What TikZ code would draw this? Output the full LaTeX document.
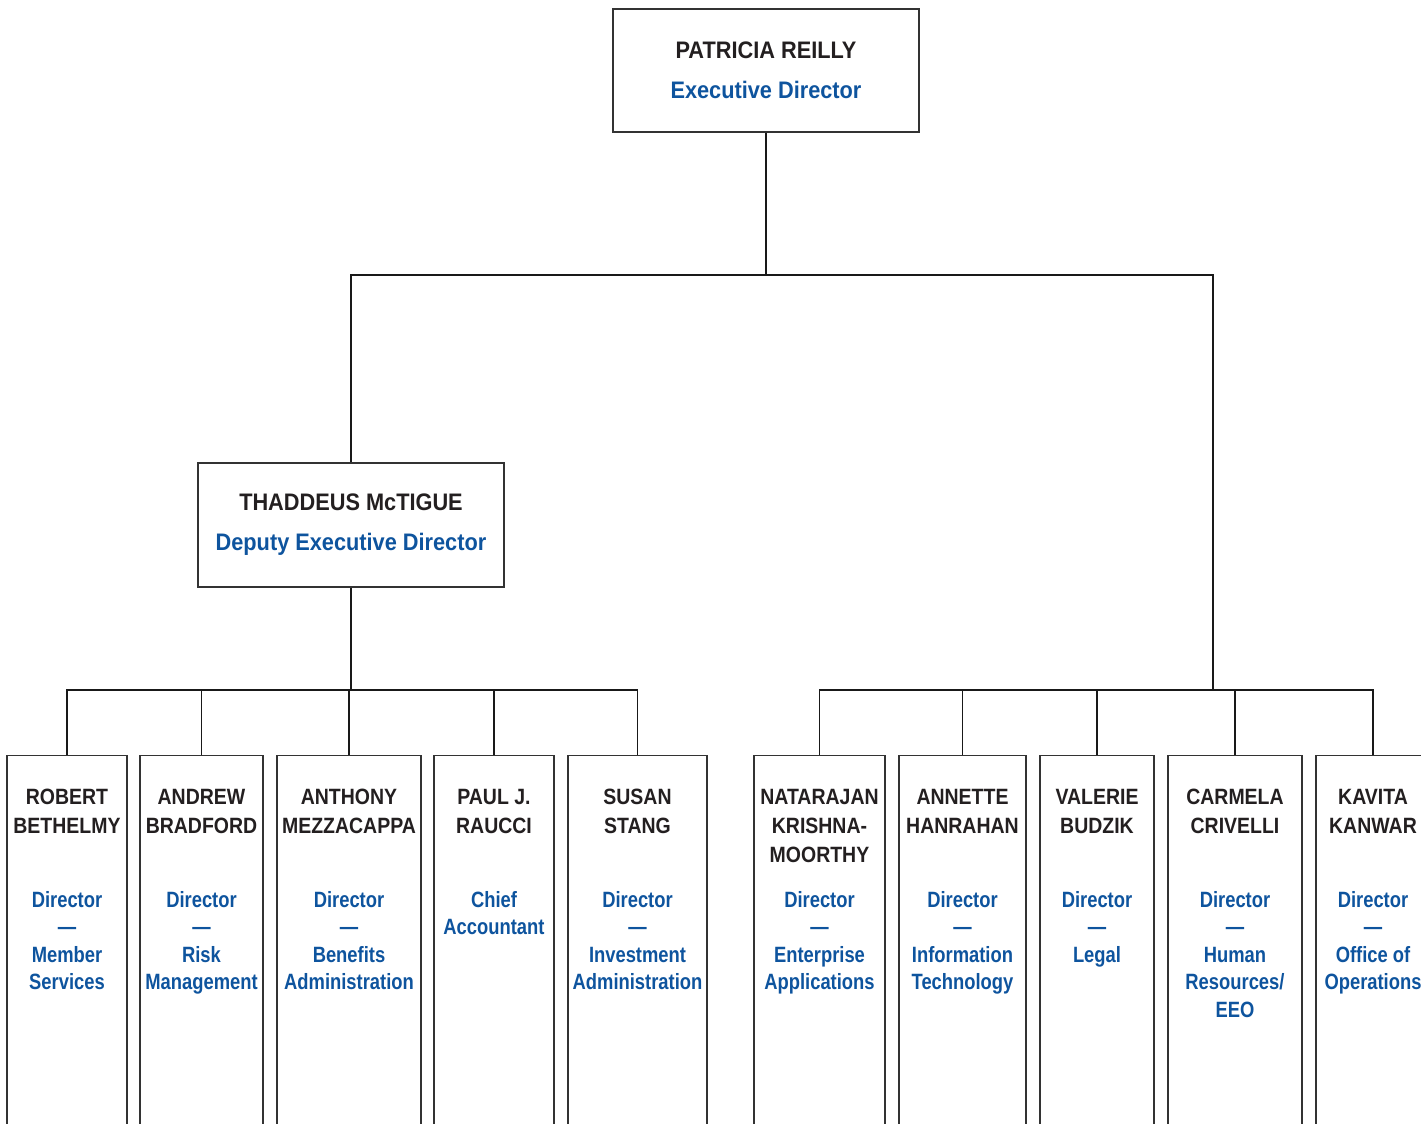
\documentclass[tikz,border=0pt]{standalone}
\usepackage{fontspec}
\newfontfamily\hdfont[FakeStretch=0.91]{Liberation Sans}
\newfontfamily\namefont[FakeStretch=0.88]{Liberation Sans}
\newfontfamily\jobfont[FakeStretch=0.83]{Liberation Sans}
\definecolor{inkname}{RGB}{35,31,32}
\definecolor{inkjob}{RGB}{14,84,158}

\begin{document}
\begin{tikzpicture}[x=0.02cm,y=-0.02cm,
    head/.style={draw=black!80, line width=0.7pt, minimum width=6.12cm, align=center,
      font={\hdfont\bfseries\fontsize{13.6}{22.7}\selectfont}},
    unit/.style={draw=black!80, line width=0.7pt, anchor=north, minimum height=7.7cm},
    who/.style={anchor=north, inner sep=0pt, align=center, text=inkname,
      font={\namefont\bfseries\fontsize{12.6}{16.4}\selectfont}},
    job/.style={anchor=north, inner sep=0pt, align=center, text=inkjob,
      font={\jobfont\bfseries\fontsize{12.6}{15.6}\selectfont}},
    link/.style={line width=1.1pt, black!90}]

        \useasboundingbox (0,0) rectangle (1421,1124);
        \clip (0,0) rectangle (1421,1124);

        \node[head, minimum height=2.46cm] (pr) at (766,70.5)
          {{\color{inkname}PATRICIA REILLY}\\{\color{inkjob}Executive Director}};
        \node[head, minimum height=2.48cm] (td) at (351,525)
          {{\color{inkname}THADDEUS McTIGUE}\\{\color{inkjob}Deputy Executive Director}};

        \begin{scope}[every node/.style={unit}]
          \node[minimum width=2.40cm] (b1)  at (67,755)    {};
          \node[minimum width=2.46cm] (b2)  at (201.5,755) {};
          \node[minimum width=2.88cm] (b3)  at (349,755)   {};
          \node[minimum width=2.40cm] (b4)  at (494,755)   {};
          \node[minimum width=2.78cm] (b5)  at (637.5,755) {};
          \node[minimum width=2.62cm] (b6)  at (819.5,755) {};
          \node[minimum width=2.54cm] (b7)  at (962.5,755) {};
          \node[minimum width=2.28cm] (b8)  at (1097,755)  {};
          \node[minimum width=2.68cm] (b9)  at (1235,755)  {};
          \node[minimum width=2.28cm] (b10) at (1373,755)  {};
        \end{scope}

        \node[who] (n1)  at (b1.north  |- 0,789) {ROBERT\\BETHELMY};
        \node[who] (n2)  at (b2.north  |- 0,789) {ANDREW\\BRADFORD};
        \node[who] (n3)  at (b3.north  |- 0,789) {ANTHONY\\MEZZACAPPA};
        \node[who] (n4)  at (b4.north  |- 0,789) {PAUL J.\\RAUCCI};
        \node[who] (n5)  at (b5.north  |- 0,789) {SUSAN\\STANG};
        \node[who] (n6)  at (b6.north  |- 0,789) {NATARAJAN\\KRISHNA-\\MOORTHY};
        \node[who] (n7)  at (b7.north  |- 0,789) {ANNETTE\\HANRAHAN};
        \node[who] (n8)  at (b8.north  |- 0,789) {VALERIE\\BUDZIK};
        \node[who] (n9)  at (b9.north  |- 0,789) {CARMELA\\CRIVELLI};
        \node[who] (n10) at (b10.north |- 0,789) {KAVITA\\KANWAR};

        \node[job] (t1)  at (b1.north  |- 0,891) {Director\\—\\Member\\Services};
        \node[job] (t2)  at (b2.north  |- 0,891) {Director\\—\\Risk\\Management};
        \node[job] (t3)  at (b3.north  |- 0,891) {Director\\—\\Benefits\\Administration};
        \node[job] (t4)  at (b4.north  |- 0,891) {Chief\\Accountant};
        \node[job] (t5)  at (b5.north  |- 0,891) {Director\\—\\Investment\\Administration};
        \node[job] (t6)  at (b6.north  |- 0,891) {Director\\—\\Enterprise\\Applications};
        \node[job] (t7)  at (b7.north  |- 0,891) {Director\\—\\Information\\Technology};
        \node[job] (t8)  at (b8.north  |- 0,891) {Director\\—\\Legal};
        \node[job] (t9)  at (b9.north  |- 0,891) {Director\\—\\Human\\Resources/\\EEO};
        \node[job] (t10) at (b10.north |- 0,891) {Director\\—\\Office of\\Operations};

        \coordinate (topbar)    at (766,275);
        \coordinate (rightdrop) at (1213,690);
        \coordinate (leftbar)   at (351,690);

        \draw[link] (pr.south) -- (topbar);
        \draw[link] (td.north) |- (topbar) -| (rightdrop);
        \draw[link] (td.south) -- (leftbar);
        \foreach \b in {b1,b2,b3,b4,b5}
          \draw[link] (\b.north) |- (leftbar);
        \foreach \b in {b6,b7,b8,b9,b10}
          \draw[link] (\b.north) |- (rightdrop);

      \end{tikzpicture}
\end{document}
